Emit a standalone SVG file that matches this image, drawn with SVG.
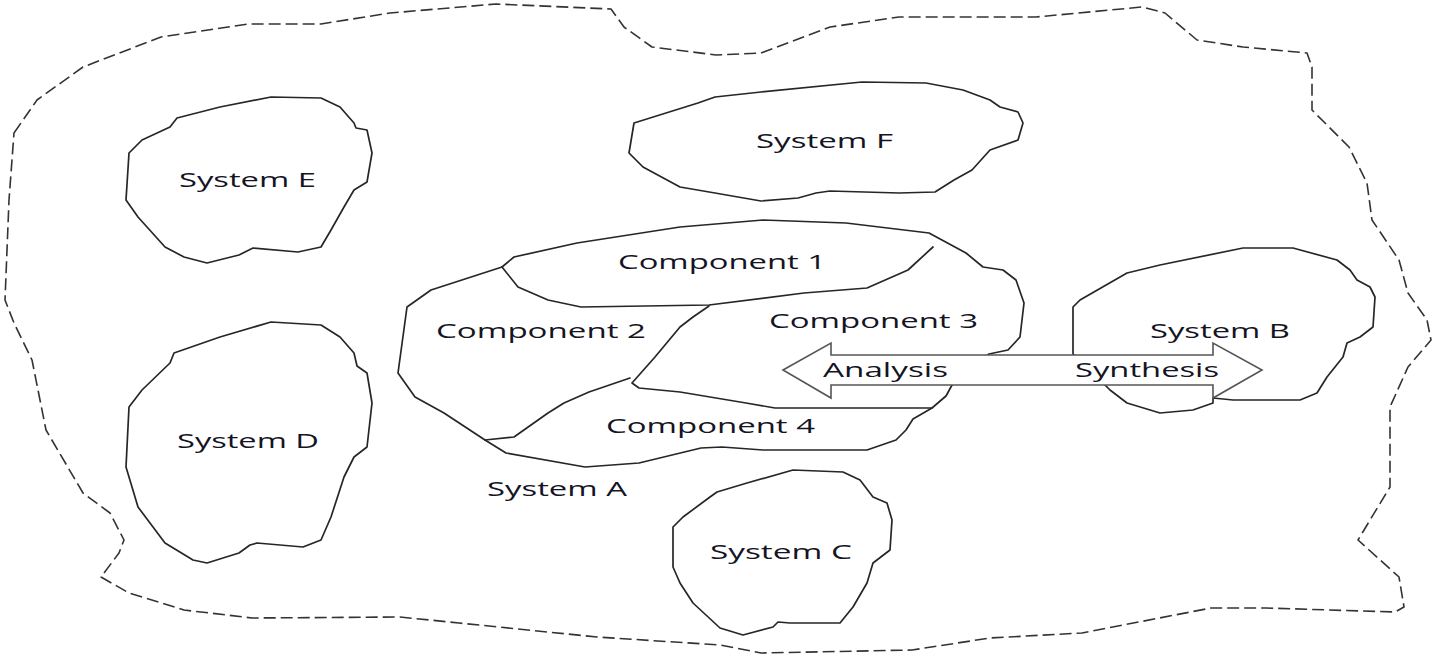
<svg xmlns="http://www.w3.org/2000/svg" width="1435" height="658" viewBox="0 0 1435 658">
<style>
.bg{fill:#ffffff}
.blob{fill:none;stroke:#262626;stroke-width:1.7;stroke-linejoin:round;stroke-linecap:round}
.outer{fill:none;stroke:#333;stroke-width:1.6;stroke-dasharray:12 5;stroke-linejoin:round}
.lbl{font-family:"Open Sans","Noto Sans",sans-serif;font-size:20px;fill:#141424}
.arrow{fill:#ffffff;stroke:#555;stroke-width:1.6;stroke-linejoin:miter}
</style>
<rect class="bg" x="0" y="0" width="1435" height="658"/>
<g id="environment">
<polygon class="outer" points="14,133 37,100 83,67 161,37 248,24 321,24 390,13 496,4 611,9 624,27 652,47 716,55 761,53 830,27 899,17 1036,17 1142,7 1165,13 1197,40 1243,47 1307,53 1312,67 1312,110 1349,147 1367,183 1372,220 1399,260 1408,293 1427,320 1431,340 1408,367 1390,407 1390,487 1358,540 1399,577 1404,607 1395,612 1266,608 1211,608 1082,633 990,638 912,650 761,653 720,645 597,637 459,623 400,617 252,618 184,610 129,593 101,577 119,553 124,540 110,513 83,493 46,430 32,360 14,323 5,300 9,200"/>
</g>
<g id="system-e">
<polygon class="blob" points="271,97 321,98 340,107 354,123 356,128 367,130 372,153 367,182 354,190 344,207 331,230 321,247 298,252 253,248 239,255 207,263 184,257 165,247 138,217 126,200 129,153 142,140 170,127 177,118 220,107"/>
<text class="lbl" x="179" y="187" textLength="137" lengthAdjust="spacingAndGlyphs">System E</text>
</g>
<g id="system-d">
<polygon class="blob" points="271,322 321,325 340,337 354,353 357,366 367,373 372,403 367,447 354,457 344,477 331,517 321,540 303,547 257,543 250,545 239,553 207,563 193,560 165,543 138,507 126,467 129,407 142,390 170,363 174,353 220,337"/>
<text class="lbl" x="177" y="448" textLength="142" lengthAdjust="spacingAndGlyphs">System D</text>
</g>
<g id="system-f">
<polygon class="blob" points="715,97 761,92 862,82 926,83 963,90 990,100 1000,107 1018,112 1023,123 1018,140 990,150 981,160 972,170 954,180 935,192 899,193 830,191 816,193 798,198 761,201 715,193 680,187 643,167 629,153 634,123 698,103"/>
<text class="lbl" x="756" y="148" textLength="137" lengthAdjust="spacingAndGlyphs">System F</text>
</g>
<g id="system-c">
<polygon class="blob" points="793,470 843,472 860,480 873,497 887,503 892,520 890,550 873,563 867,583 853,607 840,623 790,623 778,622 773,627 743,635 720,628 693,603 680,583 673,567 673,527 683,517 710,497 717,492 747,483"/>
<text class="lbl" x="710" y="559" textLength="142" lengthAdjust="spacingAndGlyphs">System C</text>
</g>
<g id="system-b">
<polygon class="blob" points="1073,354 1073,307 1080,300 1127,273 1160,265 1243,248 1293,248 1337,260 1350,270 1357,280 1370,287 1375,297 1373,327 1360,337 1347,343 1343,357 1327,377 1317,393 1300,400 1233,400 1213,398 1213,403 1193,410 1160,413 1127,403 1110,390 1105,385"/>
<text class="lbl" x="1150" y="338" textLength="140" lengthAdjust="spacingAndGlyphs">System B</text>
</g>
<g id="system-a">
<polygon class="blob" points="502,267 514,257 577,243 680,227 763,220 846,223 929,233 966,253 983,267 1003,270 1016,280 1024,303 1020,337 1008,350 989,354 952,385 946,396 932,408 913,419 906,430 896,440 867,450 763,450 722,447 701,448 639,463 585,467 506,453 485,440 444,413 415,397 398,373 407,307 431,290"/>
<g id="component-1">
<polyline class="blob" points="502,267 518,287 548,300 581,307 709,305 804,293 867,288 908,270 933,247"/>
<text class="lbl" x="618" y="269" textLength="208" lengthAdjust="spacingAndGlyphs">Component 1</text>
</g>
<g id="component-2">
<text class="lbl" x="436" y="338" textLength="210" lengthAdjust="spacingAndGlyphs">Component 2</text>
</g>
<g id="component-3">
<polyline class="blob" points="709,306 693,317 680,327 655,357 632,383 639,388 680,392 746,403 775,408 932,408"/>
<text class="lbl" x="769" y="328" textLength="209" lengthAdjust="spacingAndGlyphs">Component 3</text>
</g>
<g id="component-4">
<polyline class="blob" points="485,440 514,437 548,413 564,403 589,392 630,378"/>
<text class="lbl" x="606" y="433" textLength="209" lengthAdjust="spacingAndGlyphs">Component 4</text>
</g>
<text class="lbl" x="487" y="496" textLength="140" lengthAdjust="spacingAndGlyphs">System A</text>
</g>
<g id="connectors">
<polygon class="arrow" points="783,370 831,343 831,355 1213,355 1213,343 1262,370 1213,398 1213,385 831,385 831,398"/>
<text class="lbl" x="823" y="377" textLength="125" lengthAdjust="spacingAndGlyphs">Analysis</text>
<text class="lbl" x="1075" y="377" textLength="144" lengthAdjust="spacingAndGlyphs">Synthesis</text>
</g>
</svg>
